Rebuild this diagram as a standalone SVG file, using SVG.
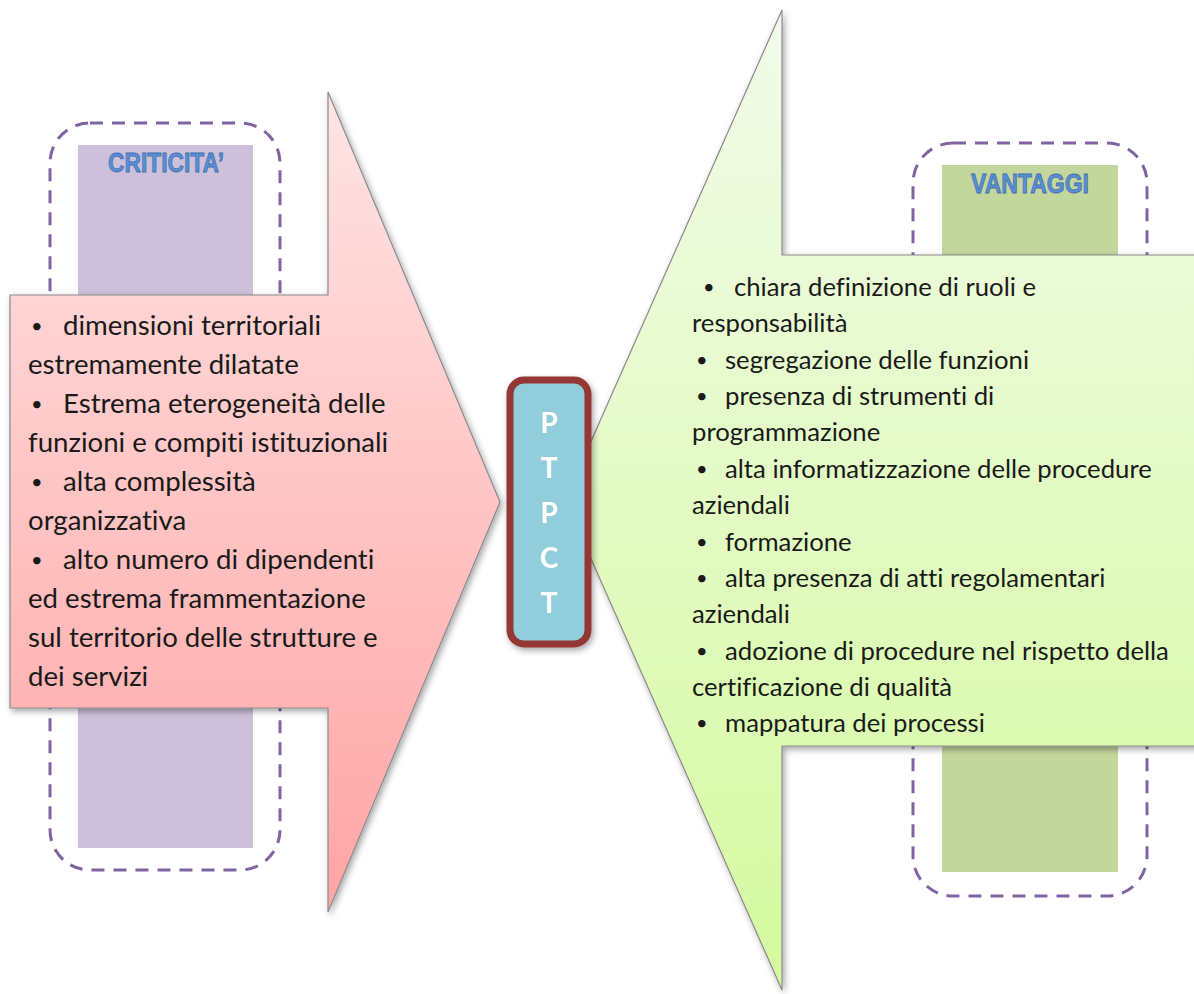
<svg xmlns="http://www.w3.org/2000/svg" width="1194" height="994" viewBox="0 0 1194 994">
  <defs>
    <linearGradient id="gradPink" x1="0" y1="0" x2="0" y2="1">
      <stop offset="0" stop-color="#FFE4E4"/>
      <stop offset="1" stop-color="#FFA4A4"/>
    </linearGradient>
    <linearGradient id="gradGreen" x1="0" y1="0" x2="0" y2="1">
      <stop offset="0" stop-color="#F2FBEA"/>
      <stop offset="1" stop-color="#D4FA9E"/>
    </linearGradient>
    <filter id="shadow" x="-10%" y="-10%" width="130%" height="130%">
      <feDropShadow dx="2" dy="3" stdDeviation="3" flood-color="#000" flood-opacity="0.35"/>
    </filter>
  </defs>
  <style>
    .frame { fill: none; stroke: #8064A2; stroke-width: 3; stroke-dasharray: 13 9; }
    .arrow { stroke: #8A8A8A; stroke-width: 1.2; filter: url(#shadow); }
    .head { font-family: "Liberation Sans", Arial, sans-serif; font-weight: bold; font-size: 27px; fill: #5B8FD3; stroke: #3F6FB0; stroke-width: 0.8; text-anchor: middle; }
    .body { font-family: Lato, "Liberation Sans", sans-serif; fill: #1A1A1A; font-variant-ligatures: none; }
    .left { font-size: 27.6px; }
    .right { font-size: 25.7px; }
    .bul { font-size: 20px; }
    .core { font-family: Lato, "Liberation Sans", sans-serif; font-weight: bold; font-size: 28px; fill: #FFFFFF; text-anchor: middle; }
  </style>

  <rect width="1194" height="994" fill="#FFFFFF"/>

  <!-- Criticità panel (behind the arrow) -->
  <g id="criticita-panel">
    <rect class="frame" x="50" y="123" width="230" height="747" rx="40"/>
    <rect x="78" y="145" width="175" height="703" fill="#CCC0DA"/>
    <text class="head" x="166" y="172" textLength="116" lengthAdjust="spacingAndGlyphs">CRITICITA’</text>
  </g>

  <!-- Vantaggi panel (behind the arrow) -->
  <g id="vantaggi-panel">
    <rect class="frame" x="913" y="143" width="234" height="753" rx="40"/>
    <rect x="942" y="165" width="176" height="707" fill="#C3D69B"/>
    <text class="head" x="1030" y="193" textLength="118" lengthAdjust="spacingAndGlyphs">VANTAGGI</text>
  </g>

  <!-- Left arrow: critical issues -->
  <g id="criticita-arrow">
    <polygon class="arrow" fill="url(#gradPink)" points="10,295 328,295 328,92 500,502 328,912 328,708 10,708"/>
    <g class="body left">
      <text class="bul" x="31" y="333">•</text><text x="63" y="335">dimensioni territoriali</text>
      <text x="28" y="374">estremamente dilatate</text>
      <text class="bul" x="31" y="411">•</text><text x="63" y="413">Estrema eterogeneità delle</text>
      <text x="28" y="452">funzioni e compiti istituzionali</text>
      <text class="bul" x="31" y="489">•</text><text x="63" y="491">alta complessità</text>
      <text x="28" y="530">organizzativa</text>
      <text class="bul" x="31" y="567">•</text><text x="63" y="569">alto numero di dipendenti</text>
      <text x="28" y="608">ed estrema frammentazione</text>
      <text x="28" y="647">sul territorio delle strutture e</text>
      <text x="28" y="686">dei servizi</text>
    </g>
  </g>

  <!-- Right arrow: advantages -->
  <g id="vantaggi-arrow">
    <polygon class="arrow" fill="url(#gradGreen)" points="1200,255 782,255 782,10 565,500 782,990 782,746 1200,746"/>
    <g class="body right">
      <text class="bul" x="703" y="294">•</text><text x="734" y="296">chiara definizione di ruoli e</text>
      <text x="692" y="332">responsabilità</text>
      <text class="bul" x="696" y="367">•</text><text x="725" y="369">segregazione delle funzioni</text>
      <text class="bul" x="696" y="403">•</text><text x="725" y="405">presenza di strumenti di</text>
      <text x="692" y="441">programmazione</text>
      <text class="bul" x="696" y="476">•</text><text x="725" y="478">alta informatizzazione delle procedure</text>
      <text x="692" y="514">aziendali</text>
      <text class="bul" x="696" y="549">•</text><text x="725" y="551">formazione</text>
      <text class="bul" x="696" y="585">•</text><text x="725" y="587">alta presenza di atti regolamentari</text>
      <text x="692" y="623">aziendali</text>
      <text class="bul" x="696" y="658">•</text><text x="725" y="660">adozione di procedure nel rispetto della</text>
      <text x="692" y="696">certificazione di qualità</text>
      <text class="bul" x="696" y="730">•</text><text x="725" y="732">mappatura dei processi</text>
    </g>
  </g>

  <!-- Central PTPCT block -->
  <g id="ptpct">
    <rect x="510" y="380" width="78" height="264" rx="14" fill="#92CDDC" stroke="#953735" stroke-width="7" filter="url(#shadow)"/>
    <text class="core" x="549" y="433">P</text>
    <text class="core" x="549" y="478">T</text>
    <text class="core" x="549" y="523">P</text>
    <text class="core" x="549" y="568">C</text>
    <text class="core" x="549" y="613">T</text>
  </g>
</svg>
